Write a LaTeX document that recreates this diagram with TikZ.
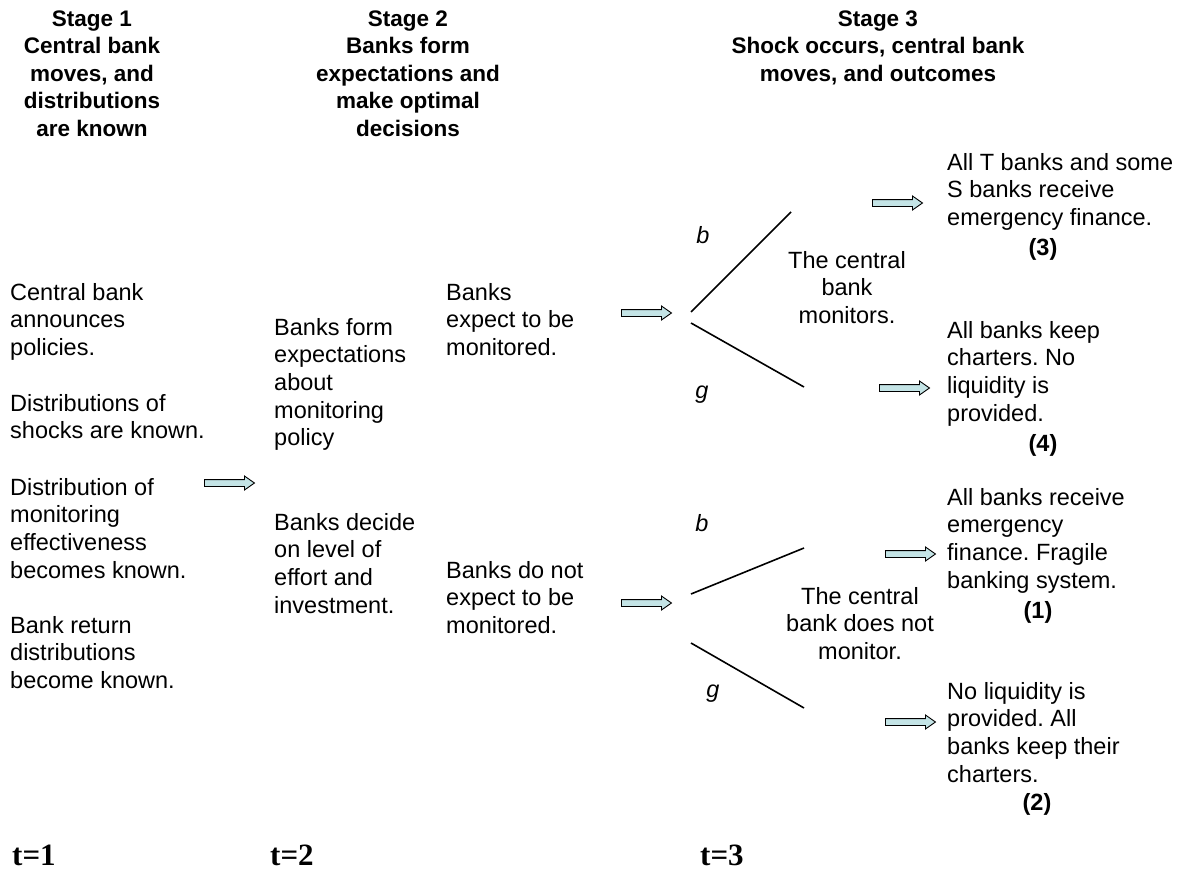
\documentclass[tikz,border=0pt]{standalone}
\usepackage{fontspec}
\setmainfont{Liberation Sans}
\newfontfamily\timesfont{Liberation Serif}
\usepackage{tikz}
\usetikzlibrary{shapes.arrows}
\definecolor{ArrFill}{HTML}{C4E4E6}
\frenchspacing

\begin{document}
\begin{tikzpicture}[x=1pt,y=-1pt,
  txt/.style={anchor=base west,align=left,inner sep=0,font=\fontsize{23.5}{27.7}\selectfont},
  ctr/.style={anchor=base,align=center,inner sep=0,font=\fontsize{23.5}{27.7}\selectfont},
  head/.style={anchor=base,align=center,inner sep=0,font=\fontsize{22.5}{27.5}\selectfont\bfseries},
  lbl/.style={anchor=base,inner sep=0,font=\fontsize{23.5}{27.7}\selectfont\itshape},
  num/.style={anchor=base,inner sep=0,font=\fontsize{23.5}{27.7}\selectfont\bfseries},
  tlbl/.style={anchor=base west,inner sep=0,font=\fontsize{31}{31}\timesfont\bfseries},
  blockarrow/.style={single arrow,draw=black,fill=ArrFill,line width=0.9pt,
    minimum height=50pt,inner xsep=0pt,inner ysep=3pt,
    single arrow head extend=3.5pt,single arrow tip angle=70},
  branch/.style={line width=1.6pt}]
\path[use as bounding box] (0,0) rectangle (1181,870);
% stage headings (anchored on their last line)
\node[head] (stageone) at (92,136) {Stage 1\\Central bank\\moves, and\\distributions\\are known};
\node[head] (stagetwo) at (408,136) {Stage 2\\Banks form\\expectations and\\make optimal\\decisions};
\node[head] (stagethree) at (878,81) {Stage 3\\Shock occurs, central bank\\moves, and outcomes};
% stage 1
\node[txt] (announce) at (10,355.4) {Central bank\\announces\\policies.};
\node[txt] (shockdist) at (10,438.7) {Distributions of\\shocks are known.};
\node[txt] (monitdist) at (10,578.1) {Distribution of\\monitoring\\effectiveness\\becomes known.};
\node[txt] (returndist) at (10,688.4) {Bank return\\distributions\\become known.};
\node[blockarrow] (arrstage) at (227,483) {};
% stage 2
\node[txt] (formexp) at (274,445.8) {Banks form\\expectations\\about\\monitoring\\policy};
\node[txt] (decide) at (274,613.1) {Banks decide\\on level of\\effort and\\investment.};
\node[txt] (expmon) at (446,355.4) {Banks\\expect to be\\monitored.};
\node[txt] (expnot) at (446,633.4) {Banks do not\\expect to be\\monitored.};
\node[blockarrow] (arrmon) at (644,313) {};
\node[blockarrow] (arrnot) at (644,603) {};
% stage 3, monitored
\coordinate (monroot) at (691,312);
\coordinate (monb) at (791,212);
\coordinate (monrootg) at (691,323);
\coordinate (mong) at (804,387);
\draw[branch] (monroot) -- (monb);
\draw[branch] (monrootg) -- (mong);
\node[lbl] (labmonb) at (703,243) {b};
\node[lbl] (labmong) at (702,398) {g};
\node[ctr] (cbmon) at (847,323.4) {The central\\bank\\monitors.};
\node[blockarrow] (arrthree) at (895,203) {};
\node[blockarrow] (arrfour) at (902,388) {};
\node[txt] (outthree) at (947,225.4) {All T banks and some\\S banks receive\\emergency finance.};
\node[num] (numthree) at (1043,255) {(3)};
\node[txt] (outfour) at (947,421.1) {All banks keep\\charters. No\\liquidity is\\provided.};
\node[num] (numfour) at (1043,451) {(4)};
% stage 3, not monitored
\coordinate (notroot) at (691,594);
\coordinate (notb) at (804,548);
\coordinate (notrootg) at (691,643);
\coordinate (notg) at (804,708);
\draw[branch] (notroot) -- (notb);
\draw[branch] (notrootg) -- (notg);
\node[lbl] (labnotb) at (702,531) {b};
\node[lbl] (labnotg) at (713,697) {g};
\node[ctr] (cbnot) at (860,659.4) {The central\\bank does not\\monitor.};
\node[blockarrow] (arrone) at (908,554) {};
\node[blockarrow] (arrtwo) at (908,722) {};
\node[txt] (outone) at (947,588.1) {All banks receive\\emergency\\finance. Fragile\\banking system.};
\node[num] (numone) at (1038,618) {(1)};
\node[txt] (outtwo) at (947,782.1) {No liquidity is\\provided. All\\banks keep their\\charters.};
\node[num] (numtwo) at (1037,810) {(2)};
% time line
\node[tlbl] (tone) at (12,865) {t=1};
\node[tlbl] (ttwo) at (270,865) {t=2};
\node[tlbl] (tthree) at (700,865) {t=3};
\end{tikzpicture}
\end{document}
